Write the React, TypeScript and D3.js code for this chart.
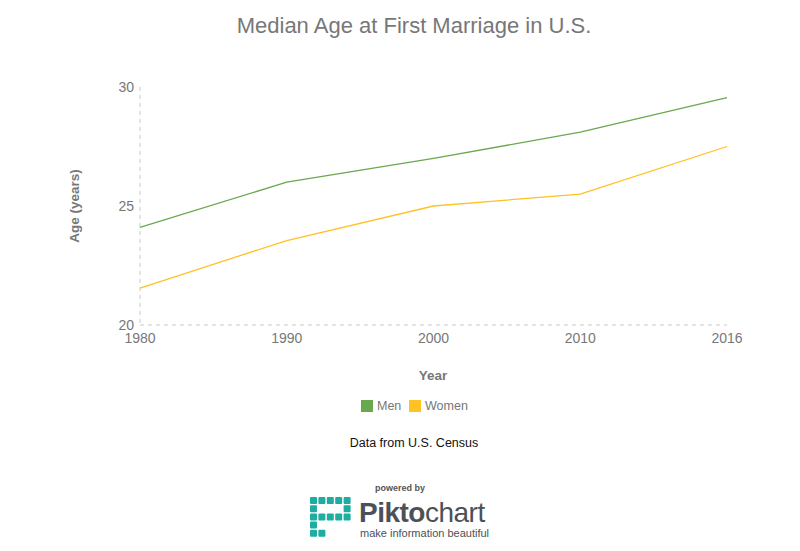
import React from "react";
import * as d3 from "d3";

const years = ["1980", "1990", "2000", "2010", "2016"];
const men = [24.1, 26.0, 27.0, 28.1, 29.55];
const women = [21.55, 23.55, 25.0, 25.5, 27.5];
const yTicks = [20, 25, 30];
const seriesNames = ["Men", "Women"];
const seriesColors = ["#6aa84f", "#ffc124"];

const W = 800, H = 551;
const M = { left: 140, right: 727, top: 87, bottom: 325 };
const FONT = "'Liberation Sans', Arial, Helvetica, sans-serif";

export default function App() {
  const x = d3.scalePoint<string>().domain(years).range([M.left, M.right]);
  const y = d3.scaleLinear().domain([20, 30]).range([M.bottom, M.top]);
  const line = d3.line<number>().x((_, i) => x(years[i]) as number).y((d) => y(d));
  const series = [men, women];

  const cells: { cx: number; cy: number }[] = [];
  const n = 5;
  for (let r = 0; r < n; r++) for (let c = 0; c < n; c++) {
    const edge = r === 0 || c === 0 || c === n - 1 || r === n - 1 || (r === 2 && c >= 1);
    if (!edge) continue;
    if (r === n - 1 && c >= 2) continue;
    if (c === n - 1 && r >= 3) continue;
    cells.push({ cx: c, cy: r });
  }

  return (
    <svg width={W} height={H} style={{ position: "absolute", left: 0, top: 0, background: "#fff" }} fontFamily={FONT}>
      <rect x={0} y={0} width={W} height={H} fill="#fff" />
      <text x={414} y={33} textAnchor="middle" fontSize={22} fill="#777">Median Age at First Marriage in U.S.</text>

      <line x1={M.left} x2={M.left} y1={M.top} y2={M.bottom} stroke="#c8c8c8" strokeDasharray="4,4" />
      <line x1={M.left} x2={M.right} y1={M.bottom} y2={M.bottom} stroke="#c8c8c8" strokeDasharray="4,4" />
      {yTicks.map((t) => (
        <text key={t} x={M.left - 6} y={y(t) + 5} textAnchor="end" fontSize={14} fill="#777">{t}</text>
      ))}
      {years.map((yr) => (
        <text key={yr} x={x(yr)} y={M.bottom + 18} textAnchor="middle" fontSize={14} fill="#777">{yr}</text>
      ))}
      <text transform={`translate(79,${(M.top + M.bottom) / 2}) rotate(-90)`} textAnchor="middle" fontSize={13.5} fontWeight="bold" fill="#777">Age (years)</text>
      <text x={433} y={380} textAnchor="middle" fontSize={13.5} fontWeight="bold" fill="#777">Year</text>

      {series.map((s, i) => (
        <path key={i} d={line(s) || ""} fill="none" stroke={seriesColors[i]} strokeWidth={1.3} />
      ))}

      <g>
        <rect x={361} y={400} width={12} height={12} fill={seriesColors[0]} />
        <text x={377} y={410} fontSize={12.5} fill="#777">{seriesNames[0]}</text>
        <rect x={409} y={400} width={12} height={12} fill={seriesColors[1]} />
        <text x={425} y={410} fontSize={12.5} fill="#777">{seriesNames[1]}</text>
      </g>
      <text x={414} y={447} textAnchor="middle" fontSize={12.5} fill="#111">Data from U.S. Census</text>

      <text x={400} y={491} textAnchor="middle" fontSize={9} fontWeight="bold" fill="#555">powered by</text>
      <g transform="translate(310,497)">
        {cells.map((c, i) => (
          <rect key={i} x={c.cx * 8.4} y={c.cy * 8.2} width={7} height={7} rx={1} fill="#1eada0" />
        ))}
      </g>
      <text x={359} y={522} fontSize={28} fill="#4b5157" letterSpacing={-0.5}>
        <tspan fontWeight="bold">Pikto</tspan>
        <tspan>chart</tspan>
      </text>
      <text x={360} y={537} fontSize={11} fill="#4b5157">make information beautiful</text>
    </svg>
  );
}
